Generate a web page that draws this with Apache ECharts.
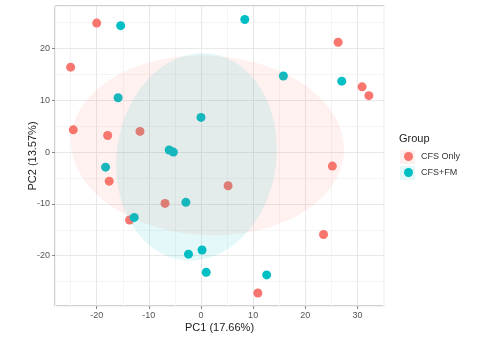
<!DOCTYPE html>
<html>
<head>
<meta charset="utf-8">
<script src="https://cdn.jsdelivr.net/npm/echarts@6/dist/echarts.min.js"></script>
<style>
    html, body {margin:0;padding:0;background:#fff;}
    #chart {width:490px;height:338px;}
</style>
</head>
<body>
<div id="chart"></div>
<script>
    // PCA scores
    var onlyX = [-20.0, -25.0, -24.5, -17.9, -11.7, 26.3, 30.9, 32.2, 25.2, -17.6, -6.9, 5.2, -13.7, 23.5, 10.9];
    var onlyY = [24.9, 16.4, 4.3, 3.2, 4.0, 21.2, 12.6, 10.9, -2.7, -5.6, -9.9, -6.5, -13.1, -15.9, -27.2];
    var fmX = [-15.4, 8.4, -15.9, 0.0, -6.1, -5.3, -18.3, 15.8, 27.0, -2.9, -12.8, -2.4, 0.2, 1.0, 12.6];
    var fmY = [24.4, 25.6, 10.5, 6.7, 0.4, 0.0, -2.9, 14.7, 13.7, -9.7, -12.6, -19.7, -18.9, -23.2, -23.7];

    // group ellipses: centre x, centre y, semi-axis x, semi-axis y, rotation (deg)
    var ellipseOnly = [1.25, 1.3, 26.2, 17.3, -3];
    var ellipseFM = [-0.86, -0.92, 15.3, 20.1, -8];

    var xTicks = [-20, -10, 0, 10, 20, 30];
    var yTicks = [-20, -10, 0, 10, 20];
    var groups = ['CFS Only', 'CFS+FM'];
    var colors = ['#F8766D', '#00BFC4'];
    var fills = ['rgba(248,118,109,0.1)', 'rgba(0,191,196,0.1)'];

    var font = 'Liberation Sans, Arial, sans-serif';

    function zip(xs, ys) {
        return xs.map(function (x, i) { return [x, ys[i]]; });
    }

    function renderEllipse(params, api) {
        var cx = api.value(0), cy = api.value(1), rx = api.value(2), ry = api.value(3);
        var a = api.value(4) * Math.PI / 180;
        var pts = [];
        for (var i = 0; i < 120; i++) {
            var t = i / 120 * Math.PI * 2;
            var ex = rx * Math.cos(t), ey = ry * Math.sin(t);
            pts.push(api.coord([cx + ex * Math.cos(a) - ey * Math.sin(a),
                                cy + ex * Math.sin(a) + ey * Math.cos(a)]));
        }
        return {type: 'polygon', shape: {points: pts}, style: {fill: fills[params.dataIndex], stroke: null}};
    }

    var chart = echarts.init(document.getElementById('chart'));

    var majorX = {
        type: 'value', min: -28, max: 35.1, minInterval: 10, maxInterval: 10, z: 1,
        splitLine: {lineStyle: {color: '#e8e8e8', width: 1}},
        axisLine: {show: false, onZero: false},
        axisTick: {show: true, customValues: xTicks, length: 3, lineStyle: {color: '#888'}},
        axisLabel: {customValues: xTicks, margin: 5, fontSize: 9, color: '#555', fontFamily: font},
        name: 'PC1 (17.66%)', nameLocation: 'middle', nameGap: 16, nameMoveOverlap: false,
        nameTextStyle: {fontSize: 11, color: '#222', fontFamily: font}
    };
    var minorX = {
        type: 'value', min: -28, max: 35.1, minInterval: 5, maxInterval: 5, position: 'top', z: 0,
        splitLine: {lineStyle: {color: '#f4f4f4', width: 1}},
        axisLine: {show: false, onZero: false}, axisTick: {show: false}, axisLabel: {show: false}
    };
    var majorY = {
        type: 'value', min: -29.7, max: 28.2, minInterval: 10, maxInterval: 10, z: 1,
        splitLine: {lineStyle: {color: '#e8e8e8', width: 1}},
        axisLine: {show: false, onZero: false},
        axisTick: {show: true, customValues: yTicks, length: 3, lineStyle: {color: '#888'}},
        axisLabel: {customValues: yTicks, margin: 5, fontSize: 9, color: '#555', fontFamily: font},
        name: 'PC2 (13.57%)', nameLocation: 'middle', nameGap: 17, nameRotate: 90, nameMoveOverlap: false,
        nameTextStyle: {fontSize: 11, color: '#222', fontFamily: font}
    };
    var minorY = {
        type: 'value', min: -29.7, max: 28.2, minInterval: 5, maxInterval: 5, position: 'right', z: 0,
        splitLine: {lineStyle: {color: '#f4f4f4', width: 1}},
        axisLine: {show: false, onZero: false}, axisTick: {show: false}, axisLabel: {show: false}
    };

    var option = {
        animation: false,
        backgroundColor: '#fff',
        textStyle: {fontFamily: font},
        title: {
            text: 'Group', left: 399, top: 133, padding: 0,
            textStyle: {fontSize: 11, fontWeight: 'normal', color: '#222', fontFamily: font}
        },
        legend: [
            {data: [groups[0]], left: 404, top: 152, padding: 0, icon: 'circle', itemWidth: 9, itemHeight: 9,
             textStyle: {fontSize: 9, color: '#333', fontFamily: font, padding: [0, 0, 0, 3]}},
            {data: [groups[1]], left: 404, top: 168, padding: 0, icon: 'circle', itemWidth: 9, itemHeight: 9,
             textStyle: {fontSize: 9, color: '#333', fontFamily: font, padding: [0, 0, 0, 3]}}
        ],
        graphic: [
            {type: 'rect', left: 400, top: 150, shape: {width: 15, height: 14}, style: {fill: fills[0]}, z: -1},
            {type: 'rect', left: 400, top: 166, shape: {width: 15, height: 14}, style: {fill: fills[1]}, z: -1}
        ],
        grid: {left: 55, top: 6, right: 106, bottom: 31, show: true, borderColor: '#a0a0a0', borderWidth: 1},
        xAxis: [majorX, minorX],
        yAxis: [majorY, minorY],
        series: [
            {name: groups[0], type: 'scatter', data: zip(onlyX, onlyY), symbolSize: 9,
             itemStyle: {color: colors[0], opacity: 1}, z: 2},
            {name: groups[1], type: 'scatter', data: zip(fmX, fmY), symbolSize: 9,
             itemStyle: {color: colors[1], opacity: 1}, z: 2},
            {name: 'ellipses', type: 'custom', renderItem: renderEllipse, data: [ellipseOnly, ellipseFM],
             encode: {x: 0, y: 1}, silent: true, z: 3}
        ]
    };
    chart.setOption(option);
    window.onresize = function () {
        chart.resize();
    };
</script>
</body>
</html>
